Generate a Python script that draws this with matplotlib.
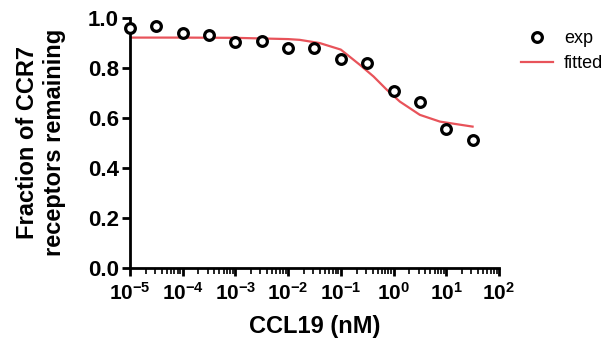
import numpy as np
import matplotlib.pyplot as plt
from matplotlib.ticker import LogLocator, FixedLocator

plt.rcParams['font.family'] = ['Liberation Sans', 'DejaVu Sans']
plt.rcParams['mathtext.fontset'] = 'custom'
plt.rcParams['mathtext.rm'] = 'Liberation Sans:bold'
plt.rcParams['mathtext.bf'] = 'Liberation Sans:bold'

# experimental data (CCL19 nM vs fraction remaining)
conc_exp = [1e-5, 3.16e-5, 1e-4, 3.16e-4, 1e-3, 3.16e-3, 1e-2, 3.16e-2,
            1e-1, 3.16e-1, 1e0, 3.16e0, 1e1, 3.16e1]
frac_exp = [0.959, 0.968, 0.941, 0.933, 0.904, 0.907, 0.879, 0.879,
            0.836, 0.820, 0.709, 0.663, 0.557, 0.512]

# fitted curve
conc_fit = [1e-5, 1e-4, 1e-3, 1e-2, 0.0166, 0.04, 0.1, 0.23, 0.42,
            0.74, 1.32, 3.16, 7.6, 31.6]
frac_fit = [0.921, 0.921, 0.920, 0.915, 0.912, 0.899, 0.873, 0.812, 0.765,
            0.713, 0.665, 0.612, 0.585, 0.565]

fig = plt.figure(figsize=(6.07, 3.43), dpi=100)
ax = fig.add_axes([0.214, 0.219, 0.608, 0.729])

ax.plot(conc_fit, frac_fit, color='#e8535a', lw=1.6, label='fitted', zorder=2)
ax.plot(conc_exp, frac_exp, 'o', ms=7, mfc='white', mec='black', mew=2.3,
        label='exp', zorder=3, clip_on=False)

ax.set_xscale('log')
ax.set_xlim(1e-5, 1e2)
ax.set_ylim(0, 1.0)
ax.set_yticks([0, 0.2, 0.4, 0.6, 0.8, 1.0])
ax.set_yticklabels(['0.0', '0.2', '0.4', '0.6', '0.8', '1.0'])
xt = [10.0**k for k in range(-5, 3)]
ax.xaxis.set_major_locator(FixedLocator(xt))
ax.set_xticklabels([r'$\mathregular{10^{%d}}$' % k for k in range(-5, 3)])
ax.xaxis.set_minor_locator(LogLocator(base=10, subs=np.arange(2, 10), numticks=20))

for s in ['top', 'right']:
    ax.spines[s].set_visible(False)
for s in ['left', 'bottom']:
    ax.spines[s].set_linewidth(2)

ax.tick_params(axis='both', which='major', direction='out', length=6, width=2)
ax.tick_params(axis='y', labelsize=16, pad=2)
ax.tick_params(axis='x', labelsize=15, pad=4)
ax.tick_params(axis='x', which='minor', direction='out', length=4, width=1.2)
for lab in ax.get_xticklabels() + ax.get_yticklabels():
    lab.set_fontweight('bold')

ax.set_xlabel('CCL19 (nM)', fontsize=17, fontweight='bold', labelpad=8)
ax.set_ylabel('Fraction of CCR7\nreceptors remaining', fontsize=17,
              fontweight='bold', labelpad=16, linespacing=1.2)

handles, labels = ax.get_legend_handles_labels()
ax.legend(handles[::-1], labels[::-1], loc='upper left',
          bbox_to_anchor=(1.015, 1.015), frameon=False, fontsize=13,
          handlelength=1.8, handletextpad=0.6, labelspacing=0.45)

fig.savefig('out.png', dpi=100)
